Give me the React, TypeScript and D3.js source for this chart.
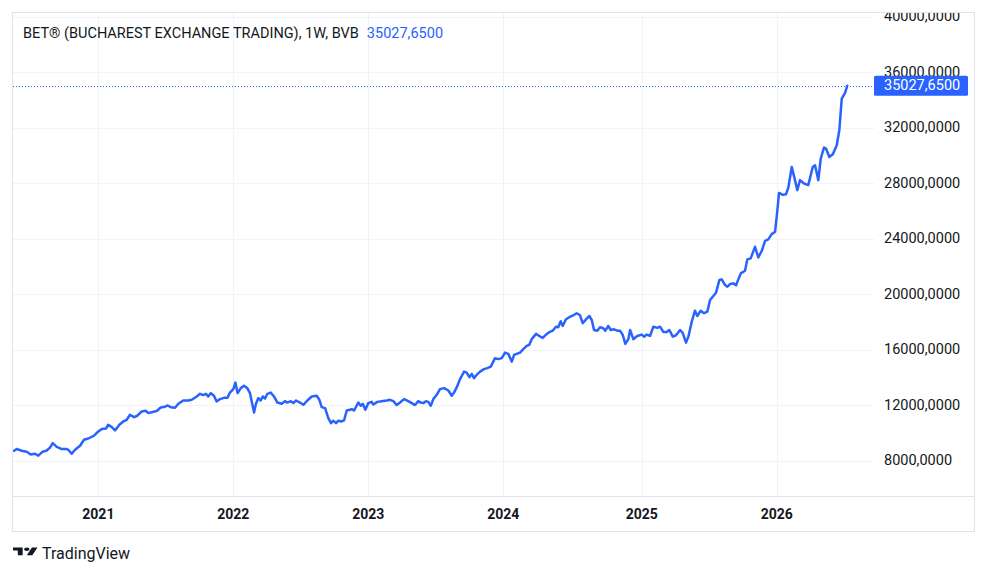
import React, { useEffect, useRef } from "react";
import * as d3 from "d3";

// weekly closes, time as decimal year
export const weekTimes: number[] = [
  2020.388, 2020.407, 2020.444, 2020.481, 2020.511, 2020.542, 2020.567, 2020.599, 2020.629, 2020.653,
  2020.673, 2020.703, 2020.74, 2020.776, 2020.793, 2020.813, 2020.838, 2020.875, 2020.904, 2020.936,
  2020.978, 2021.01, 2021.035, 2021.066, 2021.083, 2021.109, 2021.133, 2021.165, 2021.194, 2021.219,
  2021.244, 2021.273, 2021.297, 2021.33, 2021.359, 2021.379, 2021.416, 2021.441, 2021.47, 2021.502,
  2021.522, 2021.544, 2021.576, 2021.6, 2021.637, 2021.674, 2021.699, 2021.736, 2021.76, 2021.784,
  2021.804, 2021.821, 2021.839, 2021.863, 2021.883, 2021.908, 2021.937, 2021.962, 2021.981, 2022.006,
  2022.021, 2022.038, 2022.061, 2022.085, 2022.109, 2022.129, 2022.144, 2022.159, 2022.173, 2022.19,
  2022.208, 2022.223, 2022.24, 2022.257, 2022.282, 2022.306, 2022.331, 2022.363, 2022.387, 2022.404,
  2022.43, 2022.449, 2022.469, 2022.498, 2022.523, 2022.552, 2022.585, 2022.621, 2022.641, 2022.658,
  2022.683, 2022.707, 2022.727, 2022.744, 2022.764, 2022.781, 2022.806, 2022.823, 2022.843, 2022.867,
  2022.88, 2022.897, 2022.928, 2022.946, 2022.961, 2022.98, 2023.002, 2023.027, 2023.039, 2023.069,
  2023.101, 2023.138, 2023.162, 2023.187, 2023.212, 2023.236, 2023.266, 2023.297, 2023.323, 2023.347,
  2023.371, 2023.389, 2023.408, 2023.428, 2023.445, 2023.463, 2023.482, 2023.507, 2023.531, 2023.561,
  2023.593, 2023.618, 2023.635, 2023.655, 2023.679, 2023.709, 2023.728, 2023.748, 2023.765, 2023.782,
  2023.802, 2023.827, 2023.856, 2023.88, 2023.906, 2023.937, 2023.962, 2023.987, 2024.011, 2024.035,
  2024.061, 2024.078, 2024.097, 2024.122, 2024.146, 2024.171, 2024.19, 2024.208, 2024.24, 2024.264,
  2024.289, 2024.314, 2024.338, 2024.363, 2024.387, 2024.404, 2024.422, 2024.437, 2024.461, 2024.491,
  2024.515, 2024.54, 2024.565, 2024.584, 2024.609, 2024.633, 2024.651, 2024.668, 2024.692, 2024.712,
  2024.736, 2024.751, 2024.773, 2024.791, 2024.815, 2024.84, 2024.86, 2024.88, 2024.899, 2024.921,
  2024.934, 2024.958, 2024.987, 2025.02, 2025.037, 2025.057, 2025.081, 2025.106, 2025.135, 2025.155,
  2025.179, 2025.204, 2025.224, 2025.249, 2025.273, 2025.303, 2025.322, 2025.347, 2025.364, 2025.389,
  2025.413, 2025.43, 2025.455, 2025.48, 2025.504, 2025.524, 2025.544, 2025.568, 2025.593, 2025.61,
  2025.635, 2025.652, 2025.672, 2025.696, 2025.716, 2025.733, 2025.751, 2025.782, 2025.799, 2025.824,
  2025.856, 2025.88, 2025.906, 2025.93, 2025.954, 2025.979, 2026.004, 2026.021, 2026.033, 2026.061,
  2026.085, 2026.102, 2026.127, 2026.151, 2026.168, 2026.188, 2026.218, 2026.249, 2026.282, 2026.299,
  2026.323, 2026.341, 2026.365, 2026.38, 2026.404, 2026.43, 2026.459, 2026.478, 2026.496, 2026.52,
  2026.537,
];

export const closeValues: number[] = [
  8720, 8840, 8720, 8650, 8450, 8500, 8360, 8650, 8740, 8940,
  9270, 8990, 8840, 8840, 8740, 8500, 8790, 9080, 9510, 9600,
  9800, 10110, 10280, 10320, 10590, 10420, 10180, 10590, 10830, 10950,
  11310, 11140, 11240, 11550, 11600, 11430, 11530, 11580, 11830, 11890,
  11980, 11860, 11810, 12100, 12340, 12340, 12390, 12630, 12820, 12730,
  12820, 12630, 12870, 12680, 12270, 12440, 12530, 12530, 12910, 13160,
  13630, 12870, 13230, 13400, 13230, 12870, 12150, 11470, 12100, 12510,
  12340, 12630, 12480, 12820, 12910, 12630, 12190, 12100, 12290, 12190,
  12290, 12150, 12340, 12190, 12030, 12340, 12630, 12680, 12390, 11860,
  11790, 11070, 10710, 10880, 10710, 10880, 10830, 10900, 11620, 11670,
  11720, 11620, 12190, 11960, 12100, 11670, 12150, 12240, 12050, 12240,
  12290, 12340, 12390, 12290, 12010, 12190, 12440, 12290, 12150, 12010,
  12290, 12190, 12150, 12290, 12240, 11960, 12440, 12750, 13160, 13230,
  13060, 12680, 12910, 13300, 13880, 14420, 14350, 14020, 14260, 13950,
  14190, 14420, 14600, 14670, 14780, 15390, 15320, 15390, 15790, 15700,
  15140, 15630, 15700, 15790, 16040, 16270, 16350, 16760, 17140, 16990,
  16850, 17090, 17260, 17370, 17660, 17620, 18050, 17710, 18190, 18380,
  18480, 18630, 18480, 17910, 18190, 18430, 18140, 17420, 17370, 17620,
  17550, 17370, 17710, 17420, 17470, 17370, 17370, 17060, 16420, 16760,
  17420, 16760, 16990, 17090, 16940, 17090, 16990, 17660, 17570, 17660,
  17280, 17280, 17420, 16940, 17040, 17420, 17210, 16510, 16940, 18020,
  18810, 18430, 18810, 18630, 18740, 19580, 19820, 20110, 21020, 21070,
  20660, 20540, 20730, 20780, 20640, 21070, 21500, 21690, 22510, 22580,
  23420, 22650, 23130, 23850, 23950, 24330, 24500, 26060, 27300, 27160,
  27210, 27690, 29170, 28220, 27500, 28220, 27980, 27860, 29170, 29290,
  28220, 29780, 30570, 30500, 29890, 30090, 30730, 31810, 34090, 34500,
  35027.65,
];

export const priceTicks: number[] = [8000, 12000, 16000, 20000, 24000, 28000, 32000, 36000, 40000];
// first weekly bar of each year, where the time axis puts its label
export const yearTickTimes: number[] = [2021.01, 2022.006, 2023.002, 2023.998, 2025.02, 2026.016];
export const yearLabels: string[] = ["2021", "2022", "2023", "2024", "2025", "2026"];

export const chartTitle = "BET® (BUCHAREST EXCHANGE TRADING), 1W, BVB";

const FONT = "Roboto, 'Open Sans', sans-serif";
const LINE_COLOR = "#2962ff";
const TEXT_COLOR = "#131722";
const GRID_COLOR = "#f0f3fa";
const BORDER_COLOR = "#e0e3eb";

const formatPrice = (v: number) => v.toFixed(4).replace(".", ",");

const App = () => {
  const ref = useRef<SVGSVGElement>(null);
  const width = 987;
  const height = 575;

  const pane = { left: 13, right: 874, top: 13, bottom: 496 };
  const axisRight = 974;
  const axisBottom = 531;

  useEffect(() => {
    document.body.style.margin = "0";
    const svg = d3.select(ref.current);
    svg.selectAll("*").remove();

    const x = d3.scaleLinear().domain([2020.38, 2026.734]).range([pane.left, pane.right]);
    const y = d3.scaleLinear().domain([8000, 40000]).range([460.7, 16.7]);

    svg.append("rect").attr("width", width).attr("height", height).attr("fill", "#ffffff");

    const defs = svg.append("defs");
    defs
      .append("clipPath")
      .attr("id", "pane-clip")
      .append("rect")
      .attr("x", pane.left)
      .attr("y", pane.top)
      .attr("width", pane.right - pane.left)
      .attr("height", pane.bottom - pane.top);
    defs
      .append("clipPath")
      .attr("id", "price-clip")
      .append("rect")
      .attr("x", pane.right)
      .attr("y", pane.top)
      .attr("width", axisRight - pane.right)
      .attr("height", pane.bottom - pane.top);

    // grid
    const grid = svg.append("g").attr("clip-path", "url(#pane-clip)");
    grid
      .selectAll("line.h")
      .data(priceTicks)
      .enter()
      .append("line")
      .attr("class", "h")
      .attr("x1", pane.left)
      .attr("x2", pane.right)
      .attr("y1", (d) => Math.round(y(d)) + 0.5)
      .attr("y2", (d) => Math.round(y(d)) + 0.5)
      .attr("stroke", GRID_COLOR)
      .attr("stroke-width", 1);
    grid
      .selectAll("line.v")
      .data(yearTickTimes)
      .enter()
      .append("line")
      .attr("class", "v")
      .attr("x1", (d) => Math.round(x(d)) + 0.5)
      .attr("x2", (d) => Math.round(x(d)) + 0.5)
      .attr("y1", pane.top)
      .attr("y2", pane.bottom)
      .attr("stroke", GRID_COLOR)
      .attr("stroke-width", 1);

    // frame
    svg
      .append("rect")
      .attr("x", pane.left - 0.5)
      .attr("y", pane.top - 0.5)
      .attr("width", axisRight - pane.left + 1)
      .attr("height", axisBottom - pane.top + 1)
      .attr("fill", "none")
      .attr("stroke", BORDER_COLOR)
      .attr("stroke-width", 1);
    svg
      .append("line")
      .attr("x1", pane.left)
      .attr("x2", axisRight)
      .attr("y1", pane.bottom + 0.5)
      .attr("y2", pane.bottom + 0.5)
      .attr("stroke", BORDER_COLOR);

    const lastValue = closeValues[closeValues.length - 1];
    const lastY = y(lastValue);

    // dotted last-price line
    svg
      .append("line")
      .attr("x1", pane.left)
      .attr("x2", pane.right)
      .attr("y1", Math.round(lastY) + 0.5)
      .attr("y2", Math.round(lastY) + 0.5)
      .attr("stroke", LINE_COLOR)
      .attr("stroke-width", 1)
      .attr("stroke-dasharray", "1 2");

    // series
    const points = weekTimes.map((t, i) => [t, closeValues[i]] as [number, number]);
    const line = d3
      .line<[number, number]>()
      .x((d) => x(d[0]))
      .y((d) => y(d[1]));
    svg
      .append("g")
      .attr("clip-path", "url(#pane-clip)")
      .append("path")
      .datum(points)
      .attr("d", line)
      .attr("fill", "none")
      .attr("stroke", LINE_COLOR)
      .attr("stroke-width", 2.5)
      .attr("stroke-linejoin", "round")
      .attr("stroke-linecap", "round");

    // price axis
    svg
      .append("g")
      .attr("clip-path", "url(#price-clip)")
      .selectAll("text")
      .data(priceTicks)
      .enter()
      .append("text")
      .attr("x", pane.right + 10)
      .attr("y", (d) => y(d))
      .attr("dominant-baseline", "central")
      .attr("fill", TEXT_COLOR)
      .style("font-family", FONT)
      .style("font-size", "14.5px")
      .text((d) => formatPrice(d));

    svg
      .append("rect")
      .attr("x", pane.right)
      .attr("y", lastY - 10)
      .attr("width", 94)
      .attr("height", 20)
      .attr("rx", 1.5)
      .attr("fill", LINE_COLOR);
    svg
      .append("text")
      .attr("x", pane.right + 10)
      .attr("y", lastY)
      .attr("dominant-baseline", "central")
      .attr("fill", "#ffffff")
      .style("font-family", FONT)
      .style("font-size", "14.5px")
      .text(formatPrice(lastValue));

    // time axis
    svg
      .append("g")
      .selectAll("text")
      .data(yearTickTimes)
      .enter()
      .append("text")
      .attr("x", (d) => x(d))
      .attr("y", 514)
      .attr("text-anchor", "middle")
      .attr("dominant-baseline", "central")
      .attr("fill", TEXT_COLOR)
      .style("font-family", FONT)
      .style("font-size", "14px")
      .style("font-weight", "bold")
      .text((_d, i) => yearLabels[i]);

    // legend
    const legend = svg
      .append("text")
      .attr("x", 23)
      .attr("y", 38)
      .style("font-family", FONT)
      .style("font-size", "14.5px");
    legend.append("tspan").attr("fill", TEXT_COLOR).text(chartTitle);
    legend
      .append("tspan")
      .attr("dx", 8)
      .attr("fill", LINE_COLOR)
      .text(formatPrice(lastValue));

    // TradingView mark
    const logo = svg.append("g").attr("transform", "translate(13,547.5) scale(0.69,0.43)");
    logo
      .append("path")
      .attr("d", "M14 18H7V7H0V0h14v18zM28 18h-8l7.5-18h8L28 18z")
      .attr("fill", TEXT_COLOR);
    logo.append("circle").attr("cx", 20).attr("cy", 4).attr("r", 4).attr("fill", TEXT_COLOR);
    svg
      .append("text")
      .attr("x", 42)
      .attr("y", 559)
      .attr("fill", TEXT_COLOR)
      .style("font-family", FONT)
      .style("font-size", "16px")
      .text("TradingView");
  }, []);

  return <svg ref={ref} width={width} height={height} style={{ display: "block" }} />;
};

export default App;
